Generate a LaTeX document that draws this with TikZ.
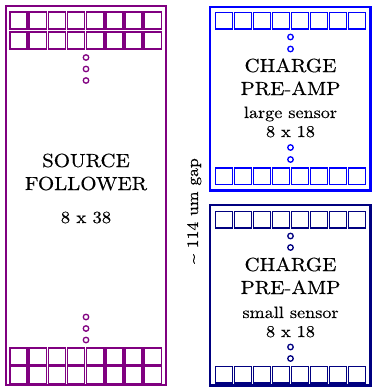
\documentclass[tikz,border=0pt]{standalone}
\usepackage{fontspec}
\setmainfont{lmroman10-regular}[Extension=.otf,FakeStretch=1.1,FakeBold=0.4]
\definecolor{sfcol}{RGB}{128,0,128}
\definecolor{lgcol}{RGB}{0,0,255}
\definecolor{smcol}{RGB}{0,0,128}
\tikzset{
  outerbox/.style={draw=#1, line width=2.5pt, inner sep=0pt, minimum width=160.5pt},
  pix/.style={draw=#1, line width=1.5pt, inner sep=0pt, minimum width=17pt, minimum height=16.5pt},
  sfpix/.style={draw=sfcol, line width=1.5pt, inner sep=0pt, minimum width=17.2pt, minimum height=17pt},
  ddot/.style={draw=#1, line width=1.3pt, circle, inner sep=0pt, minimum size=5.5pt},
  bigtxt/.style={anchor=base, inner sep=0pt, font=\fontsize{19}{22}\selectfont},
  smalltxt/.style={anchor=base, inner sep=0pt, font=\fontsize{16.5}{19}\selectfont},
}
\begin{document}
\begin{tikzpicture}[x=1pt,y=-1pt]
\useasboundingbox (0,0) rectangle (372,388);
% boxes
\node[outerbox=sfcol, minimum width=160pt, minimum height=379pt] (sf) at (86,195.5) {};
\node[outerbox=lgcol, minimum height=183.5pt] (lg) at (290.25,98.75) {};
\node[outerbox=smcol, minimum height=180.5pt] (sm) at (290.25,295.25) {};
% pixels
\foreach \i in {0,...,7}{
  \node[sfpix] (sfa\i) at ({18.6+19.15*\i},20.7) {};
  \node[sfpix] (sfb\i) at ({18.6+19.15*\i},40.3) {};
  \node[sfpix] (sfc\i) at ({18.6+19.15*\i},356.3) {};
  \node[sfpix] (sfd\i) at ({18.6+19.15*\i},375.1) {};
  \node[pix=lgcol] (lga\i) at ({223.8+19.05*\i},20.8) {};
  \node[pix=lgcol] (lgb\i) at ({223.8+19.05*\i},176) {};
  \node[pix=smcol] (sma\i) at ({223.8+19.05*\i},219.8) {};
  \node[pix=smcol] (smb\i) at ({223.8+19.05*\i},374.7) {};
}
% dots
\node[ddot=sfcol] (sfo1) at (86,57.5) {};
\node[ddot=sfcol] (sfo2) at (86,69) {};
\node[ddot=sfcol] (sfo3) at (86,80.5) {};
\node[ddot=sfcol] (sfo4) at (86,317) {};
\node[ddot=sfcol] (sfo5) at (86,328.5) {};
\node[ddot=sfcol] (sfo6) at (86,340) {};
\node[ddot=lgcol] (lgo1) at (290.5,37) {};
\node[ddot=lgcol] (lgo2) at (290.5,49) {};
\node[ddot=lgcol] (lgo3) at (290.5,147.5) {};
\node[ddot=lgcol] (lgo4) at (290.5,159.5) {};
\node[ddot=smcol] (smo1) at (290.5,236) {};
\node[ddot=smcol] (smo2) at (290.5,247.5) {};
\node[ddot=smcol] (smo3) at (290.5,347) {};
\node[ddot=smcol] (smo4) at (290.5,358.5) {};
% texts
\node[bigtxt] (sft1) at (86,167) {SOURCE};
\node[bigtxt] (sft2) at (86,190) {FOLLOWER};
\node[smalltxt, font=\fontsize{17}{20}\selectfont] (sft3) at (86,223) {8 x 38};
\node[bigtxt] (lgt1) at (290.5,72) {CHARGE};
\node[bigtxt] (lgt2) at (290.5,95) {PRE-AMP};
\node[smalltxt] (lgt3) at (290.5,118) {large sensor};
\node[smalltxt] (lgt4) at (290.5,137) {8 x 18};
\node[bigtxt] (smt1) at (290.5,271) {CHARGE};
\node[bigtxt] (smt2) at (290.5,294) {PRE-AMP};
\node[smalltxt] (smt3) at (290.5,318) {small sensor};
\node[smalltxt] (smt4) at (290.5,337) {8 x 18};
\node[smalltxt, font=\fontsize{16}{19}\selectfont, rotate=90] (gap) at (198,211) {\textasciitilde\ 114 um gap};
\end{tikzpicture}
\end{document}
